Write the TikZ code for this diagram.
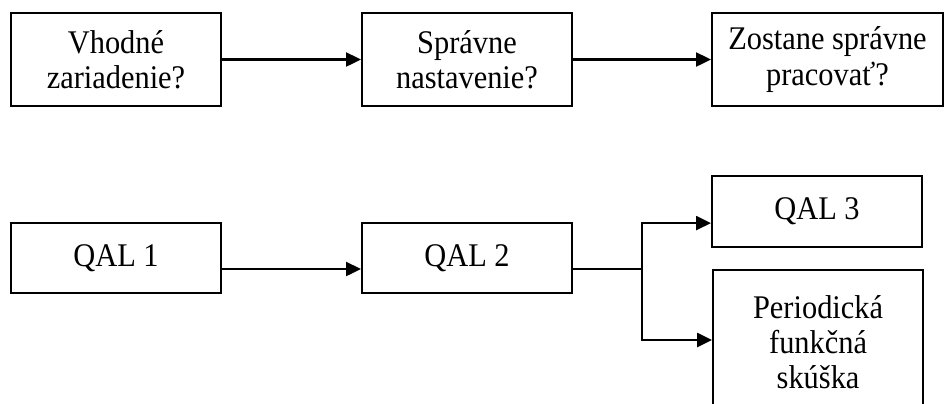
\documentclass[tikz,border=0pt]{standalone}
\usepackage{fontspec}
\setmainfont[FakeStretch=0.92]{Liberation Serif}
\usetikzlibrary{positioning,arrows.meta,calc}

\begin{document}
\begin{tikzpicture}[
  x=0.025cm, y=-0.025cm,
  font=\fontsize{23.5}{25}\selectfont,
  >={Triangle[length=0.37cm, width=0.35cm]},
  qbox/.style={rectangle, draw=black, line width=1.5pt, align=center, inner sep=2pt},
  flowarr/.style={->, draw=black, line width=1.5pt}
]
  \clip (0,0) rectangle (945,403);
  % questions
  \node[qbox, minimum width=5.25cm, minimum height=2.325cm] (vhod) at (116,59.5) {Vhodné\\zariadenie?};
  \node[qbox, minimum width=5.25cm, minimum height=2.325cm] (nast) at (467,59.5) {Správne\\nastavenie?};
  \node[qbox, minimum width=5.775cm, minimum height=2.325cm] (prac) at (827.5,59.5) {Zostane správne\\pracovať?};
  \draw[flowarr] (vhod) -- (nast);
  \draw[flowarr] (nast) -- (prac);
  % QAL levels
  \node[qbox, minimum width=5.25cm, minimum height=1.75cm] (qal1) at (116,258) {QAL 1};
  \node[qbox, minimum width=5.25cm, minimum height=1.75cm] (qal2) at (467,258) {QAL 2};
  \node[qbox, minimum width=5.25cm, minimum height=1.775cm] (qal3) at (817,211.5) {QAL 3};
  \node[qbox, anchor=north west, minimum width=5.25cm, minimum height=4.5cm,
    label={[align=center, anchor=north, inner sep=0pt, yshift=-0.66cm]north:Periodická\\funkčná\\skúška}] (pfs) at (712,269) {};
  \coordinate (fork) at (642,269);
  \draw[flowarr] (qal1.east |- fork) -- (qal2.west |- fork);
  \draw[line width=1.5pt] (qal2.east |- fork) -- (fork);
  \draw[flowarr] (fork) |- ([yshift=-0.29cm]qal3.west);
  \draw[flowarr] (fork) |- ([yshift=-1.775cm]pfs.north west);
\end{tikzpicture}
\end{document}
